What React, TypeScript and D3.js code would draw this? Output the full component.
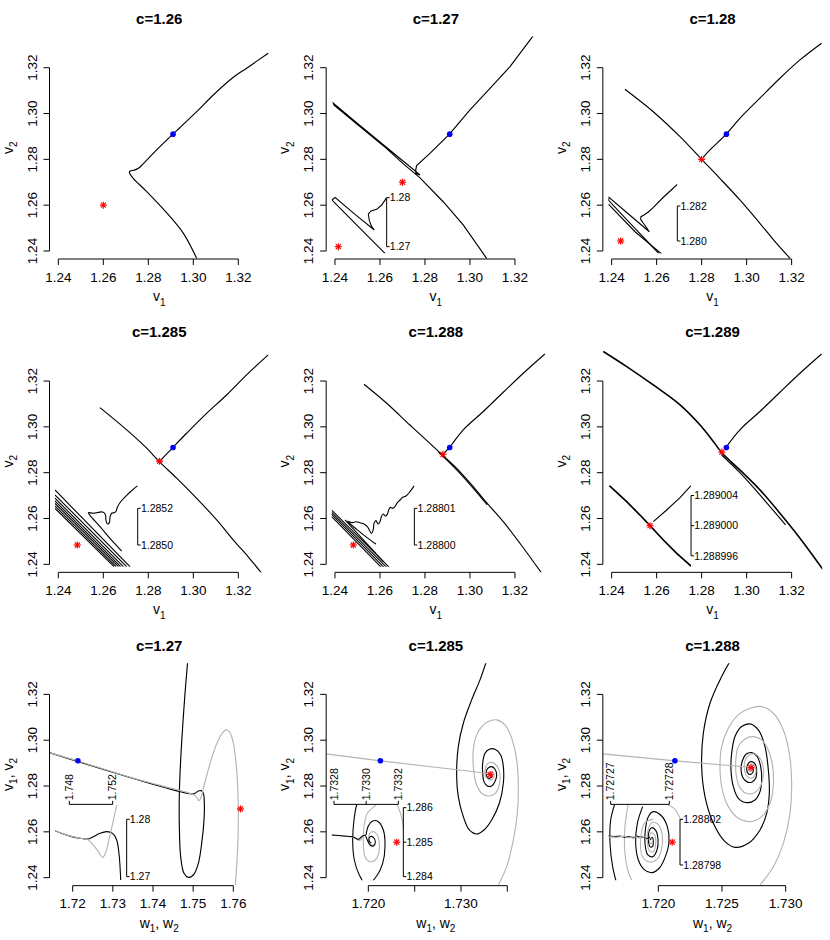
import React from 'react';
import * as d3 from 'd3';

type P = [number, number];

// ---------------- data ----------------
const titles = ['c=1.26', 'c=1.27', 'c=1.28', 'c=1.285', 'c=1.288', 'c=1.289', 'c=1.27', 'c=1.285', 'c=1.288'];
const cValues = [1.26, 1.27, 1.28, 1.285, 1.288, 1.289];
const startV: P = [1.291, 1.291];
const vTicks = [1.24, 1.26, 1.28, 1.3, 1.32];
const wTicksA = [1.72, 1.73, 1.74, 1.75, 1.76];
const wTicksB = [1.72, 1.725, 1.73, 1.735];
const wLabelsB = ['1.720', '', '1.730', ''];
const wTicksC = [1.72, 1.725, 1.73];
const wLabelsC = ['1.720', '1.725', '1.730'];
const startW = [1.7213, 1.7213, 1.7213];
const starsW: P[] = [[1.7618, 1.27], [1.73315, 1.285], [1.72728, 1.288]];

// c = 1.26
const orbit126: P[] = [[1.3333,1.3263],[1.3237,1.3198],[1.3178,1.3158],[1.3089,1.3081],[1.3015,1.3008],[1.2941,1.2939],[1.2908,1.2909],[1.2837,1.2841],[1.2770,1.2773],[1.2756,1.2761],[1.2741,1.2754],[1.2726,1.2751],[1.2716,1.2746],[1.2719,1.2736],[1.2733,1.2717],[1.2793,1.2659],[1.2881,1.2567],[1.2956,1.2477],[1.3015,1.2368]];

// c = 1.27
const orbit127: P[] = [[1.3284,1.3343],[1.3178,1.3205],[1.3089,1.3110],[1.3000,1.3016],[1.2908,1.2909],[1.2822,1.2826],[1.2763,1.2773],[1.2759,1.2754],[1.2760,1.2739],[1.2778,1.2732],[1.2704,1.2792],[1.2585,1.2888],[1.2496,1.2960],[1.2393,1.3045],[1.2396,1.3036],[1.2511,1.2943],[1.2630,1.2847],[1.2704,1.2780],[1.2778,1.2719],[1.2881,1.2615],[1.2970,1.2514],[1.3074,1.2368]];
const inset127: P[] = [[1.27986,1.28000],[1.27884,1.27850],[1.27782,1.27762],[1.27667,1.27728],[1.27612,1.27667],[1.27633,1.27531],[1.27680,1.27408],[1.27735,1.27340],[1.27340,1.27660],[1.26932,1.28007],[1.26871,1.27952],[1.27408,1.27408],[1.27952,1.26864]];

// c = 1.28
const orbit128A: P[] = [[1.2459,1.3106],[1.2585,1.3008],[1.2704,1.2899],[1.2800,1.2800],[1.2881,1.2717],[1.2970,1.2623],[1.3059,1.2521],[1.3133,1.2433],[1.3193,1.2368]];
const orbit128B: P[] = [[1.3333,1.3307],[1.3237,1.3234],[1.3148,1.3154],[1.3059,1.3067],[1.2970,1.2979],[1.2908,1.2909],[1.2837,1.2841],[1.2807,1.2809]];
const inset128A: P[] = [[1.28324,1.28324],[1.28244,1.28250],[1.28187,1.28192],[1.28158,1.28166],[1.28133,1.28149],[1.28116,1.28139],[1.28114,1.28124],[1.28133,1.28097],[1.28164,1.28053],[1.28053,1.28147],[1.27933,1.28250],[1.27931,1.28232],[1.28072,1.28082],[1.28217,1.27930]];
const inset128B: P[] = [[1.27930,1.28211],[1.28082,1.28053],[1.28234,1.27926]];

// c = 1.285
const orbit1285A: P[] = [[1.2585,1.3084],[1.2704,1.2987],[1.2793,1.2907],[1.2849,1.2848],[1.2926,1.2776],[1.3015,1.2688],[1.3104,1.2594],[1.3178,1.2506],[1.3244,1.2433],[1.3304,1.2361]];
const orbit1285B: P[] = [[1.3333,1.3314],[1.3237,1.3227],[1.3148,1.3139],[1.3059,1.3059],[1.2970,1.2972],[1.2908,1.2909],[1.2867,1.2867],[1.2852,1.2851]];
const inset1285Wiggle: P[] = [[1.285329,1.285324],[1.285296,1.285296],[1.285265,1.285267],[1.285236,1.285236],[1.285218,1.285205],[1.285211,1.285184],[1.285200,1.285176],[1.285187,1.285173],[1.285178,1.285151],[1.285175,1.285122],[1.285164,1.285115],[1.285156,1.285136],[1.285153,1.285167],[1.285138,1.285180],[1.285115,1.285178],[1.285087,1.285173],[1.285060,1.285176],[1.285069,1.285162],[1.285124,1.285100],[1.285178,1.285036],[1.285242,1.284967]];
const inset1285Bundle: P[][] = [
  [[1.284878,1.285300],[1.285287,1.284882]],
  [[1.284878,1.285273],[1.285269,1.284882]],
  [[1.284878,1.285255],[1.285251,1.284882]],
  [[1.284878,1.285240],[1.285236,1.284882]],
  [[1.284878,1.285227],[1.285224,1.284882]],
  [[1.284878,1.285213],[1.285211,1.284882]],
  [[1.284878,1.285200],[1.285200,1.284882]],
];

// c = 1.288
const orbit1288A: P[] = [[1.2529,1.3186],[1.2630,1.3103],[1.2733,1.3008],[1.2822,1.2928],[1.2877,1.2877],[1.2941,1.2819],[1.3015,1.2739],[1.3074,1.2669],[1.3148,1.2586],[1.3222,1.2492],[1.3319,1.2361]];
const orbit1288Twin: P[] = [[1.2859,1.2892],[1.2941,1.2812],[1.3015,1.2732],[1.3077,1.2659]];
const orbit1288B: P[] = [[1.3333,1.3318],[1.3237,1.3234],[1.3148,1.3151],[1.3059,1.3067],[1.2970,1.2987],[1.2908,1.2909],[1.2881,1.2882]];
const inset1288Wiggle: P[] = [[1.28801663,1.28801618],[1.28801545,1.28801454],[1.28801436,1.28801336],[1.28801345,1.28801300],[1.28801273,1.28801227],[1.28801200,1.28801154],[1.28801136,1.28801045],[1.28801073,1.28801000],[1.28801018,1.28801027],[1.28800964,1.28800954],[1.28800927,1.28800836],[1.28800873,1.28800791],[1.28800818,1.28800845],[1.28800764,1.28800773],[1.28800727,1.28800636],[1.28800673,1.28800573],[1.28800618,1.28800664],[1.28800564,1.28800591],[1.28800545,1.28800427],[1.28800491,1.28800318],[1.28800436,1.28800409],[1.28800382,1.28800500],[1.28800291,1.28800573],[1.28800182,1.28800609],[1.28800073,1.28800636],[1.28799955,1.28800609],[1.28799845,1.28800645],[1.28800091,1.28800427],[1.28800364,1.28800209],[1.28800618,1.28800027]];
const inset1288Bundle: P[][] = [
  [[1.28799409,1.28800954],[1.28800982,1.28799391]],
  [[1.28799409,1.28800891],[1.28800909,1.28799391]],
  [[1.28799409,1.28800836],[1.28800836,1.28799391]],
  [[1.28799409,1.28800773],[1.28800764,1.28799391]],
  [[1.28799773,1.28800682],[1.28800818,1.28799545]],
];

// c = 1.289
const orbit1289A: P[] = [[1.2363,1.3329],[1.2467,1.3263],[1.2585,1.3183],[1.2704,1.3096],[1.2793,1.3008],[1.2852,1.2936],[1.2889,1.2888],[1.2970,1.2812],[1.3059,1.2725],[1.3148,1.2623],[1.3237,1.2514],[1.3341,1.2375]];
const orbit1289Twin: P[] = [[1.2889,1.2877],[1.2970,1.2800],[1.3059,1.2703],[1.3173,1.2572]];
const orbit1289B: P[] = [[1.3333,1.3318],[1.3237,1.3234],[1.3148,1.3151],[1.3059,1.3067],[1.2970,1.2987],[1.2911,1.2914]];
const inset1289A: P[] = [[1.28899461,1.28900530],[1.28899691,1.28900318],[1.28899867,1.28900141],[1.289,1.289],[1.28900177,1.28899810],[1.28900354,1.28899633],[1.28900553,1.28899456]];
const inset1289B: P[] = [[1.28900044,1.28900053],[1.28900221,1.28900208],[1.28900398,1.28900371],[1.28900544,1.28900530]];

// (w, v) plane, c = 1.27
const wBlack127: P[] = [[1.71419,1.29459],[1.74963,1.27654],[1.75046,1.27683],[1.75129,1.27785],[1.75195,1.27799],[1.75253,1.27683],[1.75278,1.27246],[1.75270,1.26518],[1.75212,1.25499],[1.75129,1.24626],[1.75004,1.24116],[1.74880,1.24015],[1.74772,1.24189],[1.74689,1.24917],[1.74656,1.26227],[1.74656,1.27683],[1.74689,1.29138],[1.74739,1.30594],[1.74797,1.32049],[1.74863,1.33432]];
const wGray127: P[] = [[1.71419,1.29459],[1.72124,1.29095],[1.73510,1.28338],[1.74963,1.27654],[1.75046,1.27581],[1.75104,1.27464],[1.75145,1.27362],[1.75187,1.27464],[1.75253,1.27901],[1.75353,1.28556],[1.75485,1.29357],[1.75627,1.30012],[1.75734,1.30332],[1.75817,1.30448],[1.75900,1.30376],[1.75983,1.30012],[1.76050,1.29284],[1.76100,1.28265],[1.76124,1.26955],[1.76116,1.25645],[1.76083,1.24480],[1.76050,1.23680]];
const insetBlack127: P[] = [[1.74668,1.27802],[1.74745,1.27744],[1.74822,1.27698],[1.74898,1.27669],[1.74975,1.27657],[1.75022,1.27698],[1.75083,1.27756],[1.75145,1.27785],[1.75200,1.27756],[1.75237,1.27640],[1.75258,1.27407],[1.75268,1.27174],[1.75274,1.26942]];
const insetGray127: P[] = [[1.74668,1.27802],[1.74775,1.27727],[1.74898,1.27669],[1.74975,1.27640],[1.75022,1.27552],[1.75068,1.27436],[1.75108,1.27337],[1.75138,1.27436],[1.75169,1.27669],[1.75200,1.27930],[1.75237,1.28250]];

// (w, v) plane, c = 1.285
const wApproach1285: P[] = [[1.71543,1.29400],[1.72133,1.29095],[1.73169,1.28614],[1.73313,1.28512]];
const wBlack1285: P[] = [[1.73270,1.33389],[1.73205,1.32632],[1.73115,1.31758],[1.73025,1.30740],[1.72971,1.29721],[1.72953,1.28556],[1.72971,1.27537],[1.73025,1.26664],[1.73090,1.26082],[1.73169,1.25907],[1.73248,1.26082],[1.73331,1.26518],[1.73414,1.27246],[1.73457,1.28119],[1.73457,1.28847],[1.73428,1.29357],[1.73367,1.29604],[1.73306,1.29604],[1.73259,1.29429],[1.73234,1.28993],[1.73234,1.28556],[1.73248,1.28192],[1.73284,1.28003],[1.73331,1.28003],[1.73367,1.28192],[1.73385,1.28483],[1.73367,1.28731],[1.73331,1.28847],[1.73288,1.28774],[1.73270,1.28556],[1.73284,1.28381],[1.73313,1.28338],[1.73335,1.28440],[1.73320,1.28556]];
const wGray1285: P[] = [[1.73403,1.23680],[1.73493,1.24480],[1.73565,1.25645],[1.73608,1.26809],[1.73619,1.27974],[1.73601,1.29138],[1.73547,1.30084],[1.73475,1.30667],[1.73385,1.30885],[1.73295,1.30812],[1.73223,1.30594],[1.73162,1.30157],[1.73133,1.29575],[1.73133,1.28847],[1.73162,1.28119],[1.73223,1.27683],[1.73306,1.27566],[1.73378,1.27712],[1.73414,1.28047],[1.73421,1.28483],[1.73392,1.28847],[1.73342,1.29022],[1.73284,1.28964],[1.73259,1.28702],[1.73270,1.28381],[1.73313,1.28265],[1.73349,1.28338],[1.73356,1.28527],[1.73331,1.28629],[1.73313,1.28556]];
const insetBlack1285In: P[] = [[1.7327855,1.2852078],[1.7328580,1.2851788],[1.7329202,1.2851498],[1.7329513,1.2850821],[1.7329720,1.2851594],[1.7329927,1.2851981],[1.7330073,1.2850628],[1.7330238,1.2849179],[1.7330446,1.2848889],[1.7330570,1.2850048],[1.7330446,1.2851401],[1.7330238,1.2851594],[1.7330176,1.2850435],[1.7330321,1.2849662]];
const insetBlack1285Ring: P[] = [[1.7329617,1.2862706],[1.7329409,1.2860773],[1.7329244,1.2856425],[1.7329161,1.2850628],[1.7329264,1.2844831],[1.7329575,1.2840483],[1.7330031,1.2837584],[1.7330653,1.2840193],[1.7331026,1.2843865],[1.7331171,1.2848696],[1.7331067,1.2853527],[1.7330756,1.2855942],[1.7330404,1.2856136],[1.7330135,1.2854686],[1.7329990,1.2852078]];
const insetGray1285In: P[] = [[1.7327855,1.2852078],[1.7328580,1.2851788],[1.7329202,1.2851401],[1.7329575,1.2850435],[1.7329782,1.2851594]];
const insetGray1285Ring: P[] = [[1.7332311,1.2853334],[1.7332249,1.2856425],[1.7332062,1.2859324],[1.7331793,1.2861740],[1.7331067,1.2862706],[1.7330487,1.2860290],[1.7330073,1.2858358],[1.7329865,1.2854493],[1.7329824,1.2849662],[1.7329927,1.2845797],[1.7330238,1.2844348],[1.7330570,1.2844831],[1.7330777,1.2846763],[1.7330819,1.2849662],[1.7330694,1.2852078],[1.7330446,1.2853044],[1.7330238,1.2852561],[1.7330155,1.2850628],[1.7330280,1.2849179],[1.7330446,1.2849276]];
const insetStar1285: P = [1.73319, 1.285];

// (w, v) plane, c = 1.288
const wApproach1288: P[] = [[1.71563,1.29400],[1.72134,1.29095],[1.72720,1.28818]];
const wBlack1288: P[] = [[1.725576,1.333886],[1.724974,1.327773],[1.724058,1.316128],[1.723534,1.303028],[1.723403,1.288472],[1.723665,1.275371],[1.724319,1.263726],[1.725236,1.255721],[1.726021,1.253246],[1.727068,1.254993],[1.727984,1.260815],[1.728508,1.268093],[1.728717,1.276827],[1.728639,1.287016],[1.728377,1.297205],[1.727853,1.304483],[1.727199,1.307103],[1.726545,1.305939],[1.726021,1.301572],[1.725759,1.294294],[1.725707,1.287016],[1.725890,1.279738],[1.726283,1.274643],[1.726937,1.272751],[1.727592,1.273916],[1.727984,1.277555],[1.728115,1.282649],[1.728037,1.288472],[1.727775,1.292838],[1.727330,1.294585],[1.726885,1.293857],[1.726623,1.291383],[1.726492,1.287744],[1.726623,1.283814],[1.726937,1.281921],[1.727330,1.281630],[1.727644,1.283377],[1.727723,1.286288],[1.727592,1.289636],[1.727330,1.290655],[1.727068,1.289927],[1.726937,1.287744],[1.727042,1.285560],[1.727277,1.285124],[1.727461,1.286725],[1.727356,1.288472],[1.727199,1.287744]];
const wGray1288: P[] = [[1.727984,1.236798],[1.729031,1.244803],[1.729817,1.254993],[1.730340,1.268093],[1.730471,1.281194],[1.730288,1.294294],[1.729817,1.304483],[1.729031,1.311761],[1.728115,1.314672],[1.727199,1.313945],[1.726283,1.311033],[1.725497,1.305211],[1.724974,1.297205],[1.724843,1.288472],[1.724974,1.279738],[1.725497,1.271004],[1.726283,1.265910],[1.727199,1.264454],[1.728115,1.266638],[1.728770,1.272460],[1.729031,1.280466],[1.728979,1.288472],[1.728639,1.295750],[1.728115,1.300116],[1.727461,1.301572],[1.726806,1.300553],[1.726283,1.297205],[1.726099,1.292111],[1.726099,1.285560],[1.726361,1.279738],[1.726885,1.276827],[1.727461,1.276827],[1.727932,1.279010],[1.728194,1.282649],[1.728246,1.287744],[1.727984,1.292111],[1.727592,1.294003],[1.727147,1.293566],[1.726832,1.291383],[1.726754,1.287744],[1.726937,1.284396],[1.727330,1.283377],[1.727592,1.284833],[1.727644,1.287744],[1.727408,1.289636],[1.727147,1.288763],[1.727147,1.286725],[1.727330,1.286288]];
const insetBlack1288Arc: P[] = [[1.72727102,1.28803840],[1.72727000,1.28801942],[1.72726989,1.28799898],[1.72727034,1.28797854],[1.72727102,1.28796394]];
const insetBlack1288Spiral: P[] = [[1.72727545,1.28803110],[1.72727455,1.28801650],[1.72727426,1.28799898],[1.72727472,1.28798438],[1.72727568,1.28797620],[1.72727699,1.28797328],[1.72727830,1.28797737],[1.72727932,1.28798730],[1.72727994,1.28800044],[1.72727966,1.28801358],[1.72727869,1.28802292],[1.72727727,1.28802672],[1.72727642,1.28802234],[1.72727591,1.28801066],[1.72727585,1.28799898],[1.72727631,1.28798905],[1.72727716,1.28798730],[1.72727790,1.28799314],[1.72727807,1.28800190],[1.72727773,1.28800992],[1.72727699,1.28801270],[1.72727653,1.28800920],[1.72727642,1.28800190],[1.72727670,1.28799606],[1.72727710,1.28799606],[1.72727727,1.28800044],[1.72727705,1.28800424],[1.72727676,1.28800190]];
const insetBlack1288In: P[] = [[1.72726960,1.28800540],[1.72727074,1.28800482],[1.72727159,1.28800540],[1.72727244,1.28800424],[1.72727318,1.28800482],[1.72727386,1.28800365],[1.72727443,1.28800540],[1.72727511,1.28800424],[1.72727568,1.28800482],[1.72727614,1.28800307],[1.72727670,1.28800424]];
const insetGray1288Arc: P[] = [[1.72727318,1.28803840],[1.72727295,1.28803256],[1.72727244,1.28801358],[1.72727244,1.28799022],[1.72727318,1.28797124],[1.72727415,1.28796248]];
const insetGray1288Top: P[] = [[1.72727926,1.28803402],[1.72728080,1.28802964],[1.72728170,1.28802234],[1.72728227,1.28801358]];
const insetGray1288Spiral: P[] = [[1.72727727,1.28802000],[1.72727585,1.28801708],[1.72727511,1.28800190],[1.72727545,1.28798730],[1.72727670,1.28798263],[1.72727801,1.28798555],[1.72727875,1.28799606],[1.72727875,1.28800774],[1.72727801,1.28801592],[1.72727699,1.28801708],[1.72727631,1.28800920],[1.72727625,1.28800044],[1.72727659,1.28799256],[1.72727727,1.28799168],[1.72727767,1.28799898],[1.72727750,1.28800628],[1.72727693,1.28800832],[1.72727659,1.28800336],[1.72727682,1.28799840],[1.72727716,1.28800044]];
const insetGray1288In: P[] = [[1.72726960,1.28800482],[1.72727102,1.28800424],[1.72727216,1.28800511],[1.72727301,1.28800394],[1.72727415,1.28800482],[1.72727489,1.28800365],[1.72727557,1.28800511],[1.72727625,1.28800365]];
const insetStar1288: P = [1.7272805, 1.288];

// scale-bar labels
const barLabels127 = ['1.27', '1.28'];
const barLabels128 = ['1.280', '1.282'];
const barLabels1285 = ['1.2850', '1.2852'];
const barLabels1288 = ['1.28800', '1.28801'];
const barLabels1289 = ['1.288996', '1.289000', '1.289004'];
const wBarLabels127 = ['1.748', '1.752'];
const wBarLabels1285 = ['1.7328', '1.7330', '1.7332'];
const vBarLabels1285 = ['1.284', '1.285', '1.286'];
const wBarLabels1288 = ['1.72727', '1.72728'];
const vBarLabels1288 = ['1.28798', '1.28802'];

// ---------------- layout / drawing ----------------
const W = 830;
const H = 940;
const PW = W / 3;
const PH = H / 3;
const FONT = 'Liberation Sans, Arial, Helvetica, sans-serif';
const PLOT = { l: 49.5, r: 268.9, t: 36.6, b: 259 };
const GRAY = '#b4b4b4';
const Y_LAB_X = 12.5;
const yMain = d3.scaleLinear().domain([1.24, 1.32]).range([251, 67.7]);

interface Curve { pts: P[]; color: string; smooth?: boolean; width?: number }
interface Bar { at: number; ticks: number[]; labels: string[] }
interface Inset {
  xd: [number, number]; xr: [number, number];
  yd: [number, number]; yr: [number, number];
  clip: [number, number, number, number];
  curves: Curve[];
  star?: P;
  vbar?: Bar;
  hbar?: Bar;
}
interface PanelCfg {
  title: string;
  xd: [number, number]; xr: [number, number];
  xTicks: number[]; xLabels: string[];
  bottom: boolean;
  curves: Curve[];
  star: P;
  start: P;
  inset?: Inset;
}

const fmt2 = d3.format('.2f');
const k = (pts: P[], color = '#000', smooth = false): Curve => ({ pts, color, smooth });

const topInset = (xd: [number, number], xr: [number, number], yr: [number, number], right: number, top: number,
  curves: Curve[], star: P, ticks: number[], labels: string[]): Inset => ({
  xd, xr, yd: xd, yr, clip: [55, top, right - 55, 253.5 - top], curves, star,
  vbar: { at: right, ticks, labels },
});

const panels: PanelCfg[] = [
  { title: titles[0], xd: [1.24, 1.32], xr: [58.3, 238.3], xTicks: vTicks, xLabels: vTicks.map(fmt2), bottom: false,
    curves: [k(orbit126, '#000', true)], star: [cValues[0], cValues[0]], start: startV },
  { title: titles[1], xd: [1.24, 1.32], xr: [58.3, 238.3], xTicks: vTicks, xLabels: vTicks.map(fmt2), bottom: false,
    curves: [k(orbit127)], star: [cValues[1], cValues[1]], start: startV,
    inset: topInset([1.27, 1.28], [61.67, 110.67], [246.67, 197.67], 110, 197,
      [k(inset127)], [cValues[1], cValues[1]], [1.27, 1.28], barLabels127) },
  { title: titles[2], xd: [1.24, 1.32], xr: [58.3, 238.3], xTicks: vTicks, xLabels: vTicks.map(fmt2), bottom: false,
    curves: [k(orbit128A, '#000', true), k(orbit128B, '#000', true)], star: [cValues[2], cValues[2]], start: startV,
    inset: topInset([1.28, 1.282], [67.33, 102.33], [241, 206], 124, 184,
      [k(inset128A), k(inset128B)], [cValues[2], cValues[2]], [1.28, 1.282], barLabels128) },
  { title: titles[3], xd: [1.24, 1.32], xr: [58.3, 238.3], xTicks: vTicks, xLabels: vTicks.map(fmt2), bottom: false,
    curves: [k(orbit1285A, '#000', true), k(orbit1285B, '#000', true)], star: [cValues[3], cValues[3]], start: startV,
    inset: topInset([1.285, 1.2852], [77.33, 114], [231.67, 195], 137.7, 172,
      [k(inset1285Wiggle, '#000', true), ...inset1285Bundle.map(b => k(b))], [cValues[3], cValues[3]], [1.285, 1.2852], barLabels1285) },
  { title: titles[4], xd: [1.24, 1.32], xr: [58.3, 238.3], xTicks: vTicks, xLabels: vTicks.map(fmt2), bottom: false,
    curves: [k(orbit1288A, '#000', true), k(orbit1288Twin, '#000', true), k(orbit1288B, '#000', true)], star: [cValues[4], cValues[4]], start: startV,
    inset: topInset([1.288, 1.28801], [76.67, 113.33], [231.67, 195], 137.7, 172,
      [k(inset1288Wiggle, '#000', true), ...inset1288Bundle.map(b => k(b))], [cValues[4], cValues[4]], [1.288, 1.28801], barLabels1288) },
  { title: titles[5], xd: [1.24, 1.32], xr: [58.3, 238.3], xTicks: vTicks, xLabels: vTicks.map(fmt2), bottom: false,
    curves: [{ ...k(orbit1289A, '#000', true), width: 1.6 }, k(orbit1289Twin, '#000', true), k(orbit1289B, '#000', true)], star: [cValues[5], cValues[5]], start: startV,
    inset: topInset([1.289, 1.289004], [96.67, 126.84], [212.33, 182.17], 137.7, 172,
      [{ ...k(inset1289A), width: 1.7 }, k(inset1289B)], [cValues[5], cValues[5]], [1.288996, 1.289, 1.289004], barLabels1289) },
  { title: titles[6], xd: [1.72, 1.76], xr: [72.67, 233.33], xTicks: wTicksA, xLabels: wTicksA.map(fmt2), bottom: true,
    curves: [k(wBlack127, '#000', true), k(wGray127, GRAY, true)], star: starsW[0], start: [startW[0], startV[1]],
    inset: { xd: [1.748, 1.752], xr: [69.33, 112.67], yd: [1.27, 1.28], yr: [250, 192.67], clip: [55, 178, 72, 75.5],
      curves: [k(insetBlack127, '#000', true), k(insetGray127, GRAY, true)],
      vbar: { at: 126.67, ticks: [1.27, 1.28], labels: barLabels127 },
      hbar: { at: 177.7, ticks: [1.748, 1.752], labels: wBarLabels127 } } },
  { title: titles[7], xd: [1.72, 1.73], xr: [91.67, 184.33], xTicks: wTicksB, xLabels: wLabelsB, bottom: true,
    curves: [k(wBlack1285, '#000', true), k(wGray1285, GRAY, true), k(wApproach1285, GRAY)], star: starsW[1], start: [startW[1], startV[1]],
    inset: { xd: [1.7328, 1.7332], xr: [57.33, 121.67], yd: [1.284, 1.286], yr: [250, 181], clip: [55, 178, 72, 75.5],
      curves: [k(insetBlack1285Ring, '#000', true), k(insetGray1285Ring, GRAY, true), k(insetGray1285In, GRAY, true), k(insetBlack1285In, '#000', true)],
      star: insetStar1285,
      vbar: { at: 126.67, ticks: [1.284, 1.285, 1.286], labels: vBarLabels1285 },
      hbar: { at: 177.7, ticks: [1.7328, 1.733, 1.7332], labels: wBarLabels1285 } } },
  { title: titles[8], xd: [1.72, 1.73], xr: [105, 232.33], xTicks: wTicksC, xLabels: wLabelsC, bottom: true,
    curves: [k(wBlack1288, '#000', true), k(wGray1288, GRAY, true), k(wApproach1288, GRAY)], star: starsW[2], start: [startW[2], startV[1]],
    inset: { xd: [1.72727, 1.72728], xr: [57.33, 116], yd: [1.28798, 1.28802], yr: [238.33, 192.67], clip: [55, 178, 72, 75.5],
      curves: [k(insetBlack1288Arc, '#000', true), k(insetGray1288Arc, GRAY, true), k(insetGray1288Top, GRAY, true),
        k(insetBlack1288Spiral, '#000', true), k(insetGray1288Spiral, GRAY, true),
        k(insetBlack1288In, '#000'), k(insetGray1288In, GRAY)],
      star: insetStar1288,
      vbar: { at: 126.67, ticks: [1.28798, 1.28802], labels: vBarLabels1288 },
      hbar: { at: 177.7, ticks: [1.72727, 1.72728], labels: wBarLabels1288 } } },
];

const pathOf = (c: Curve, xs: d3.ScaleLinear<number, number>, ys: d3.ScaleLinear<number, number>) =>
  d3.line<P>()
    .x(d => xs(d[0]))
    .y(d => ys(d[1]))
    .curve(c.smooth ? d3.curveCatmullRom.alpha(0.5) : d3.curveLinear)(c.pts) || '';

function Star({ x, y, r = 3.5 }: { x: number; y: number; r?: number }) {
  const d = r * 0.72;
  return (
    <g stroke="#ff0000" strokeWidth={1.2}>
      <line x1={x - r} x2={x + r} y1={y} y2={y} />
      <line x1={x} x2={x} y1={y - r} y2={y + r} />
      <line x1={x - d} x2={x + d} y1={y - d} y2={y + d} />
      <line x1={x - d} x2={x + d} y1={y + d} y2={y - d} />
    </g>
  );
}

// axis title with subscripts, e.g. v1 or "w1, w2"
function SubLabel({ letter, pair, ...rest }: { letter: string; pair: boolean; [key: string]: any }) {
  return (
    <text {...rest} fontFamily={FONT} fontSize={14} textAnchor="middle" fill="#000">
      <tspan>{letter}</tspan>
      <tspan dy={4.5} fontSize={10}>1</tspan>
      {pair && <tspan dy={-4.5}>{`, ${letter}`}</tspan>}
      {pair && <tspan dy={4.5} fontSize={10}>2</tspan>}
    </text>
  );
}

function InsetView({ inset, id }: { inset: Inset; id: string }) {
  const xs = d3.scaleLinear().domain(inset.xd).range(inset.xr);
  const ys = d3.scaleLinear().domain(inset.yd).range(inset.yr);
  const [cx, cy, cw, ch] = inset.clip;
  const vb = inset.vbar;
  const hb = inset.hbar;
  return (
    <g>
      <clipPath id={id}><rect x={cx} y={cy} width={cw} height={ch} /></clipPath>
      <g clipPath={`url(#${id})`} fill="none">
        {inset.curves.map((c, i) => (
          <path key={i} d={pathOf(c, xs, ys)} stroke={c.color} strokeWidth={c.width ?? 1.1} />
        ))}
      </g>
      {inset.star && <Star x={xs(inset.star[0])} y={ys(inset.star[1])} />}
      {vb && (
        <g stroke="#000" strokeWidth={1}>
          <line x1={vb.at} x2={vb.at} y1={ys(vb.ticks[0])} y2={ys(vb.ticks[vb.ticks.length - 1])} />
          {vb.ticks.map((t, i) => (
            <g key={i}>
              <line x1={vb.at} x2={vb.at + 3} y1={ys(t)} y2={ys(t)} />
              <text x={vb.at + 3.2} y={ys(t) + 3.8} stroke="none" fill="#000" fontFamily={FONT} fontSize={10.5}>{vb.labels[i]}</text>
            </g>
          ))}
        </g>
      )}
      {hb && (
        <g stroke="#000" strokeWidth={1}>
          <line x1={xs(hb.ticks[0])} x2={xs(hb.ticks[hb.ticks.length - 1])} y1={hb.at} y2={hb.at} />
          {hb.ticks.map((t, i) => (
            <g key={i}>
              <line x1={xs(t)} x2={xs(t)} y1={hb.at} y2={hb.at - 3.5} />
              <text transform={`translate(${xs(t) + 3.8},${hb.at - 4}) rotate(-90)`} stroke="none" fill="#000"
                fontFamily={FONT} fontSize={10.5}>{hb.labels[i]}</text>
            </g>
          ))}
        </g>
      )}
    </g>
  );
}

function Panel({ cfg, index }: { cfg: PanelCfg; index: number }) {
  const col = index % 3;
  const row = Math.floor(index / 3);
  const xs = d3.scaleLinear().domain(cfg.xd).range(cfg.xr);
  const ys = yMain;
  const cid = `plot-clip-${index}`;
  const midX = (PLOT.l + PLOT.r) / 2;
  const midY = (PLOT.t + PLOT.b) / 2;
  return (
    <g transform={`translate(${col * PW},${row * PH})`}>
      <text x={midX} y={24} textAnchor="middle" fontFamily={FONT} fontWeight="bold" fontSize={15}>{cfg.title}</text>
      <clipPath id={cid}><rect x={PLOT.l} y={PLOT.t} width={PLOT.r - PLOT.l} height={PLOT.b - PLOT.t} /></clipPath>
      {cfg.inset && <InsetView inset={cfg.inset} id={`inset-clip-${index}`} />}
      <g clipPath={`url(#${cid})`} fill="none">
        {cfg.curves.map((c, i) => (
          <path key={i} d={pathOf(c, xs, ys)} stroke={c.color} strokeWidth={c.width ?? 1.15} />
        ))}
      </g>
      <circle cx={xs(cfg.start[0])} cy={ys(cfg.start[1])} r={2.8} fill="#0000ff" />
      <Star x={xs(cfg.star[0])} y={ys(cfg.star[1])} />
      {/* x axis */}
      <g stroke="#000" strokeWidth={1}>
        <line x1={xs(cfg.xTicks[0])} x2={xs(cfg.xTicks[cfg.xTicks.length - 1])} y1={PLOT.b} y2={PLOT.b} />
        {cfg.xTicks.map((t, i) => (
          <line key={i} x1={xs(t)} x2={xs(t)} y1={PLOT.b} y2={PLOT.b + 6} />
        ))}
      </g>
      {cfg.xTicks.map((t, i) => (
        <text key={i} x={xs(t)} y={281.5} textAnchor="middle" fontFamily={FONT} fontSize={13.5}>{cfg.xLabels[i]}</text>
      ))}
      {/* y axis */}
      <g stroke="#000" strokeWidth={1}>
        <line x1={PLOT.l} x2={PLOT.l} y1={ys(vTicks[0])} y2={ys(vTicks[vTicks.length - 1])} />
        {vTicks.map((t, i) => (
          <line key={i} x1={PLOT.l} x2={PLOT.l - 6} y1={ys(t)} y2={ys(t)} />
        ))}
      </g>
      {vTicks.map((t, i) => (
        <text key={i} transform={`translate(36.6,${ys(t)}) rotate(-90)`} textAnchor="middle" fontFamily={FONT} fontSize={13.5}>{fmt2(t)}</text>
      ))}
      <SubLabel letter={cfg.bottom ? 'w' : 'v'} pair={cfg.bottom} x={midX} y={301} />
      {cfg.bottom
        ? <SubLabel letter="v" pair={true} transform={`translate(${Y_LAB_X},${midY}) rotate(-90)`} />
        : <text transform={`translate(${Y_LAB_X},${midY}) rotate(-90)`} textAnchor="middle" fontFamily={FONT} fontSize={14}>
            <tspan>v</tspan><tspan dy={4.5} fontSize={10}>2</tspan>
          </text>}
    </g>
  );
}

export default function App() {
  return (
    <svg width={W} height={H} viewBox={`0 0 ${W} ${H}`}
      style={{ position: 'absolute', left: 0, top: 0, background: '#fff' }}>
      <rect width={W} height={H} fill="#fff" />
      {panels.map((p, i) => <Panel key={i} cfg={p} index={i} />)}
    </svg>
  );
}
